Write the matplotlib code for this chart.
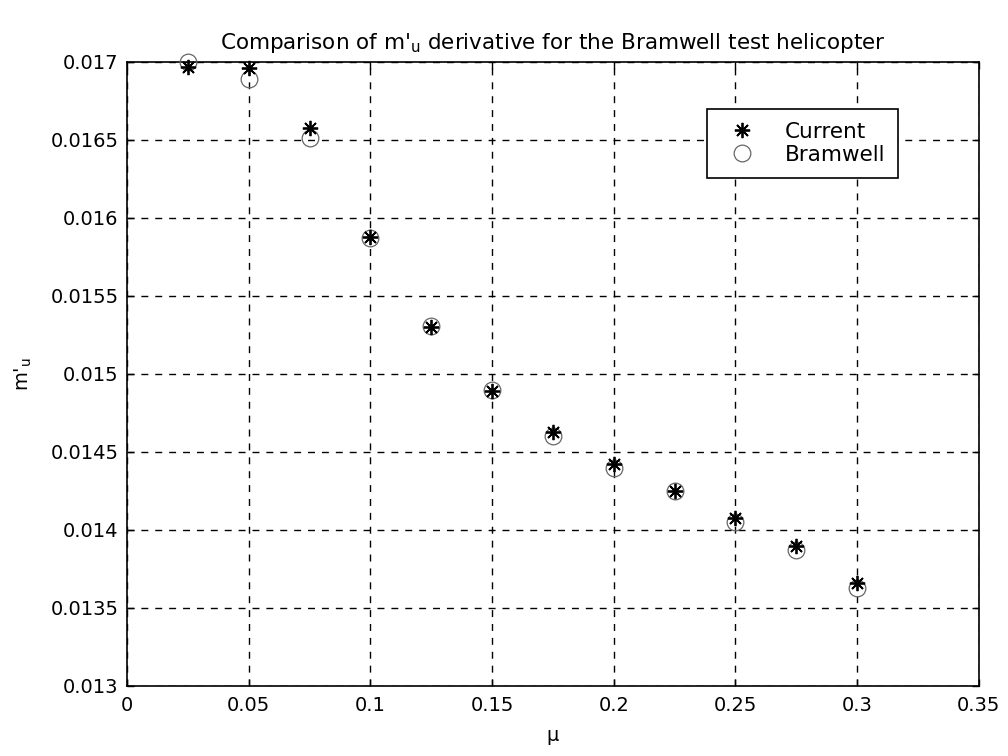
import numpy as np
import matplotlib
matplotlib.use('Agg')
import matplotlib.pyplot as plt

# Advance ratio and m'_u derivative values
mu = [0.025, 0.05, 0.075, 0.1, 0.125, 0.15, 0.175, 0.2, 0.225, 0.25, 0.275, 0.3]
current = [0.01697, 0.01696, 0.01658, 0.01588, 0.01530, 0.01489,
           0.01463, 0.01442, 0.01425, 0.01408, 0.01390, 0.01366]
bramwell = [0.01700, 0.01689, 0.01651, 0.01587, 0.01531, 0.01490,
            0.01460, 0.01440, 0.01425, 0.01405, 0.01387, 0.01363]

xticks = [0, 0.05, 0.1, 0.15, 0.2, 0.25, 0.3, 0.35]
xticklabels = ['0', '0.05', '0.1', '0.15', '0.2', '0.25', '0.3', '0.35']
yticks = [0.013, 0.0135, 0.014, 0.0145, 0.015, 0.0155, 0.016, 0.0165, 0.017]
yticklabels = ['0.013', '0.0135', '0.014', '0.0145', '0.015', '0.0155', '0.016', '0.0165', '0.017']

plt.rcParams['font.family'] = ['DejaVu Sans']
plt.rcParams['mathtext.fontset'] = 'custom'
plt.rcParams['mathtext.rm'] = 'DejaVu Sans'
plt.rcParams['mathtext.it'] = 'DejaVu Sans'

fig = plt.figure(figsize=(10.08, 7.56), dpi=100)
ax = fig.add_axes([0.126, 0.0926, 0.845, 0.8254])

# asterisk with 8 spokes, like the usual '*' marker
ax.plot(mu, bramwell, linestyle='none', marker='o', markersize=12,
        markerfacecolor='none', markeredgecolor='#666666', markeredgewidth=0.9,
        label='Bramwell', zorder=3, clip_on=False)
ax.plot(mu, current, linestyle='none', marker=(8, 2, 0), markersize=11,
        color='black', markeredgewidth=1.3, label='Current', zorder=4, clip_on=False)

ax.set_xlim(0, 0.35)
ax.set_ylim(0.013, 0.017)
ax.set_xticks(xticks)
ax.set_xticklabels(xticklabels)
ax.set_yticks(yticks)
ax.set_yticklabels(yticklabels)

ax.grid(True, color='black', linestyle=(0, (5, 5)), linewidth=1.0)
ax.tick_params(direction='in', length=5, width=1, top=True, right=True,
               labelsize=14)
ax.tick_params(axis='x', pad=7)
ax.tick_params(axis='y', pad=6)
for s in ax.spines.values():
    s.set_linewidth(1.2)

ax.set_title("Comparison of m$'_\\mathregular{u}$ derivative for the Bramwell test helicopter",
             fontsize=15.5, pad=9)
ax.set_xlabel('\u03bc', fontsize=14, labelpad=8)
ax.set_ylabel("m$'_\\mathregular{u}$", fontsize=14, labelpad=12)

h, l = ax.get_legend_handles_labels()
leg = ax.legend([h[1], h[0]], [l[1], l[0]], loc='upper left',
                bbox_to_anchor=(0.681, 0.925), borderaxespad=0, fontsize=15.5,
                frameon=True, fancybox=False, edgecolor='black', framealpha=1,
                borderpad=0.6, handlelength=2.0, handletextpad=1.0,
                labelspacing=0.15)
leg.get_frame().set_linewidth(1.2)

fig.savefig('out.png', dpi=100)
